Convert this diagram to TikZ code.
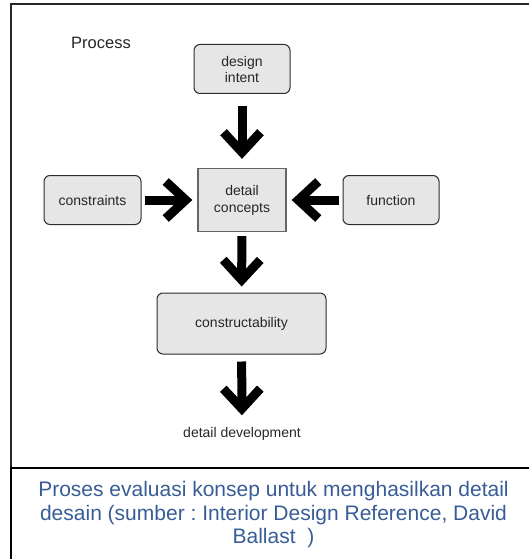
\documentclass[tikz,border=0pt]{standalone}
\usepackage{fontspec}
\setmainfont{Liberation Sans}
\usetikzlibrary{arrows.meta}
\definecolor{boxfill}{RGB}{230,230,230}
\definecolor{boxline}{RGB}{45,45,45}
\definecolor{captionblue}{RGB}{56,93,150}
\frenchspacing

\begin{document}
\begin{tikzpicture}[x=1pt,y=-1pt,
    roundbox/.style={draw=boxline, fill=boxfill, rounded corners=6pt, line width=1pt,
        font=\fontsize{14}{16}\selectfont, text=black!85, align=center, inner sep=0pt},
    squarebox/.style={draw=black!60, fill=boxfill, line width=1.3pt,
        font=\fontsize{14}{17}\selectfont, text=black!85, align=center, inner sep=0pt},
    bigarrow/.style={line width=9pt, -{Straight Barb[length=20pt,width=37pt]}}]

\useasboundingbox (0,0) rectangle (529,559);

% Frame and separator
\draw[line width=1.6pt, black!85] (11,468) -- (11,4) -- (540,4);
\draw[line width=2.4pt, black] (11,559) -- (11,468) -- (540,468);

% Title
\node[font=\fontsize{16.5}{18}\selectfont, text=black!85] (title) at (101,43) {Process};

% Boxes
\node[roundbox, minimum width=96pt, minimum height=49pt] (intent) at (242,69) {design\\intent};
\node[squarebox, minimum width=88pt, minimum height=63pt] (concepts) at (242,200) {detail\\concepts};
\node[roundbox, minimum width=97pt, minimum height=49pt] (constraints) at (92.5,200) {constraints};
\node[roundbox, minimum width=96pt, minimum height=49pt] (function) at (391,200) {function};
\node[roundbox, minimum width=169pt, minimum height=61pt] (build) at (241.5,323.5) {constructability};
\node[font=\fontsize{14}{16}\selectfont, text=black!85, inner sep=2pt] (result) at (242,434) {detail development};

% Arrows
\draw[bigarrow, shorten <=12pt, shorten >=9pt] (intent) -- (concepts);
\draw[bigarrow, shorten <=3pt, shorten >=5pt] (constraints) -- (concepts);
\draw[bigarrow, shorten <=4pt, shorten >=5pt] (function) -- (concepts);
\draw[bigarrow, shorten <=4pt, shorten >=6pt] (concepts) -- (build);
\draw[bigarrow, shorten <=7pt, shorten >=10pt] (build) -- (result);

% Caption
\node[font=\fontsize{21}{23.5}\selectfont, text=captionblue, align=center] (caption) at (273.5,515)
    {Proses evaluasi konsep untuk menghasilkan detail\\desain (sumber : Interior Design Reference, David\\Ballast\ \ )};

\end{tikzpicture}
\end{document}
